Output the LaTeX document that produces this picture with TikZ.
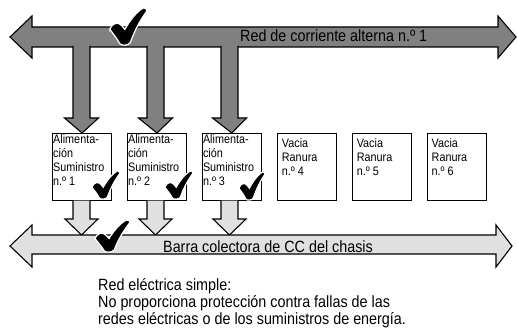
\documentclass[tikz,border=0pt]{standalone}
\usepackage{fontspec}
\setmainfont{Liberation Sans}[FakeStretch=0.88]
\usetikzlibrary{positioning}
\definecolor{acgray}{gray}{0.5}
\definecolor{ccgray}{gray}{0.88}

\begin{document}
\begin{tikzpicture}[x=1pt,y=-1pt,
  node distance=14.8pt,
  slot/.style={draw,line width=1.1pt,minimum width=59pt,minimum height=67pt,inner sep=0pt},
  slottext/.style={anchor=north west,inner sep=0pt,align=left,
                   font=\fontsize{12.3}{14}\selectfont},
  bartext/.style={anchor=base west,inner sep=0pt,font=\fontsize{16.3}{17}\selectfont},
  acbar/.style={draw,line width=1.1pt,fill=acgray},
  ccbar/.style={draw,line width=1.1pt,fill=ccgray},
  checkst/.style={fill=black,draw=white,line width=1.2pt},
  checkmk/.pic={
    \path[pic actions] (0,0.58) .. controls (0.06,0.40) and (0.22,0.36) .. (0.32,0.48)
      -- (0.40,0.58) .. controls (0.55,0.32) and (0.72,0.10) .. (0.90,0)
      .. controls (0.96,-0.02) and (1.02,0.04) .. (0.99,0.09)
      .. controls (0.82,0.32) and (0.66,0.62) .. (0.55,0.93)
      .. controls (0.50,1.02) and (0.30,1.03) .. (0.26,0.96)
      .. controls (0.18,0.80) and (0.08,0.70) .. cycle;
  }
]
\useasboundingbox (0,0) rectangle (518,328);

% AC network bar
\draw[acbar] (10,37) -- (32,16) -- (32,27) -- (498,27) -- (498,16) -- (516,37)
  -- (498,58) -- (498,47) -- (32,47) -- (32,58) -- cycle;
\node[bartext] (actext) at (240,41.5) {Red de corriente alterna n.º 1};

% supply slots
\node[slot,anchor=north west] (psu1) at (52,133) {};
\node[slot,right=of psu1] (psu2) {};
\node[slot,right=of psu2] (psu3) {};
\node[slot,right=of psu3] (slot4) {};
\node[slot,right=of slot4] (slot5) {};
\node[slot,right=of slot5] (slot6) {};

\node[slottext] (psu1txt) at ([shift={(1pt,-1pt)}]psu1.north west) {Alimenta-\\ción\\Suministro\\n.º 1};
\node[slottext] (psu2txt) at ([shift={(1pt,-1pt)}]psu2.north west) {Alimenta-\\ción\\Suministro\\n.º 2};
\node[slottext] (psu3txt) at ([shift={(1pt,-1pt)}]psu3.north west) {Alimenta-\\ción\\Suministro\\n.º 3};
\node[slottext] (slot4txt) at ([shift={(5pt,-5pt)}]slot4.north west) {Vacia\\Ranura\\n.º 4};
\node[slottext] (slot5txt) at ([shift={(5pt,-5pt)}]slot5.north west) {Vacia\\Ranura\\n.º 5};
\node[slottext] (slot6txt) at ([shift={(5pt,-5pt)}]slot6.north west) {Vacia\\Ranura\\n.º 6};

% feeds from the AC bar
\foreach \i/\cx in {1/81.5,2/155.5,3/229.5}
  \draw[acbar] (\cx-8.5,46) -- (\cx-8.5,118) -- (\cx-17,118) -- (psu\i.north)
    -- (\cx+17,118) -- (\cx+8.5,118) -- (\cx+8.5,46);

% outputs to the DC bar
\foreach \i/\cx in {1/81.5,2/155.5,3/229.5}
  \draw[ccbar] (\cx-8.5,200.6) -- (\cx-8.5,219) -- (\cx-16.5,219) -- (\cx,235)
    -- (\cx+16.5,219) -- (\cx+8.5,219) -- (\cx+8.5,200.6);

% DC bus bar
\draw[ccbar] (10,246) -- (32,225) -- (32,235) -- (496,235) -- (496,225) -- (512,246)
  -- (496,267) -- (496,254) -- (32,254) -- (32,267) -- cycle;
\node[bartext] (cctext) at (163,252) {Barra colectora de CC del chasis};

% check marks
\pic[checkst,xscale=37,yscale=37] at (110,8) {checkmk};
\pic[checkst,xscale=28,yscale=28] at (92,171) {checkmk};
\pic[checkst,xscale=28,yscale=28] at (165,171) {checkmk};
\pic[checkst,xscale=26,yscale=28] at (239,172) {checkmk};
\pic[checkst,xscale=35,yscale=32] at (95,220) {checkmk};

\node[anchor=north west,inner sep=0pt,align=left,font=\fontsize{16.3}{17}\selectfont]
  (note) at (98,278.5) {Red eléctrica simple:\\No proporciona protección contra fallas de las\\redes eléctricas o de los suministros de energía.};
\end{tikzpicture}
\end{document}
